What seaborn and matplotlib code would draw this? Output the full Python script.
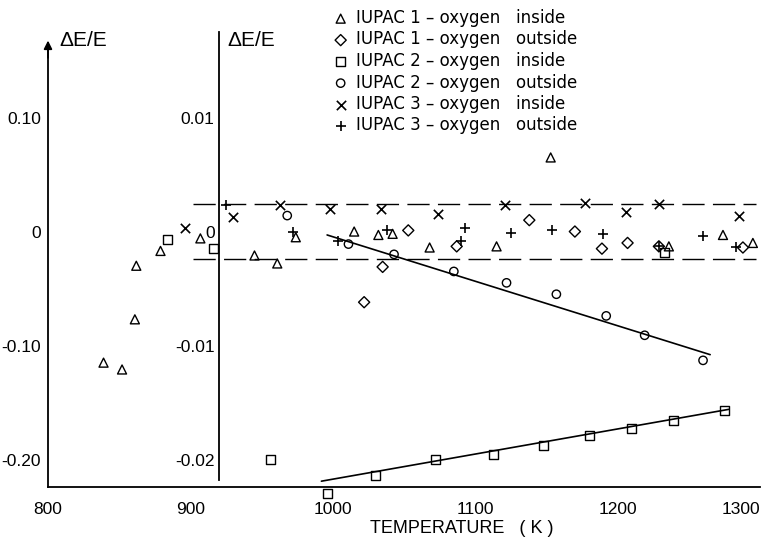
import numpy as np
import pandas as pd
import matplotlib
matplotlib.use("Agg")
import matplotlib.pyplot as plt
import seaborn as sns

# ---------------- data ----------------
# points left of the inner axis (outer ΔE/E scale, 0.10 per tick)
tri_left_T = [839, 852, 861, 862, 879, 907]
tri_left_v = [-0.115, -0.121, -0.077, -0.030, -0.017, -0.006]
sq_left_T = [884, 916]
sq_left_v = [-0.007, -0.015]
x_left_T = [896]
x_left_v = [0.003]

# points right of the inner axis (inner ΔE/E scale, 0.01 per tick)
tri_T = [945, 961, 974, 1015, 1032, 1042, 1068, 1115, 1153, 1236, 1274, 1295]
tri_v = [-0.0021, -0.0028, -0.0005, 0.0000, -0.0003, -0.0002, -0.0014, -0.0013,
         0.0065, -0.0013, -0.0003, -0.0010]
dia_T = [1022, 1035, 1053, 1087, 1138, 1170, 1189, 1207, 1229, 1288]
dia_v = [-0.0062, -0.0031, 0.0001, -0.0013, 0.0010, 0.0000, -0.0015, -0.0010,
         -0.0013, -0.0014]
sq_T = [956, 996, 1030, 1072, 1113, 1148, 1180, 1210, 1233, 1239, 1275]
sq_v = [-0.0200, -0.0230, -0.0214, -0.0200, -0.0196, -0.0188, -0.0179, -0.0173,
        -0.0018, -0.0166, -0.0157]
circ_T = [968, 1011, 1043, 1085, 1122, 1157, 1192, 1219, 1260]
circ_v = [0.0014, -0.0011, -0.0020, -0.0035, -0.0045, -0.0055, -0.0074, -0.0091,
          -0.0113]
xx_T = [930, 963, 998, 1034, 1074, 1121, 1177, 1206, 1229, 1285]
xx_v = [0.0013, 0.0023, 0.0020, 0.0020, 0.0015, 0.0023, 0.0025, 0.0017, 0.0024,
        0.0014]
plus_T = [925, 972, 1004, 1038, 1090, 1093, 1125, 1154, 1190, 1229, 1260, 1283]
plus_v = [0.0023, 0.0000, -0.0008, 0.0001, -0.0008, 0.0003, -0.0001, 0.0001,
          -0.0002, -0.0013, -0.0004, -0.0014]

# fitted lines (inner scale)
fit_circ_T = [996, 1265]
fit_circ_v = [-0.0003, -0.0108]
fit_sq_T = [992, 1278]
fit_sq_v = [-0.0219, -0.0156]

# scatter band (inner scale)
band_levels = [0.0024, -0.0024]
band_T = [902, 1297]

labels = ["IUPAC 1 \u2013 oxygen   inside", "IUPAC 1 \u2013 oxygen   outside",
          "IUPAC 2 \u2013 oxygen   inside", "IUPAC 2 \u2013 oxygen   outside",
          "IUPAC 3 \u2013 oxygen   inside", "IUPAC 3 \u2013 oxygen   outside"]

x_ticks = [800, 900, 1000, 1100, 1200, 1300]
outer_ticks = [0.10, 0.0, -0.10, -0.20]
outer_labels = ["0.10", "0", "-0.10", "-0.20"]
inner_ticks = [0.01, 0.0, -0.01, -0.02]
inner_labels = ["0.01", "0", "-0.01", "-0.02"]

# ---------------- style ----------------
sns.set_style("white")
plt.rcParams["font.family"] = ["DejaVu Sans"]
plt.rcParams["axes.linewidth"] = 1.3
plt.rcParams["text.color"] = "black"
plt.rcParams["axes.labelcolor"] = "black"
plt.rcParams["axes.edgecolor"] = "black"
TICKFONT = "Liberation Sans"

fig = plt.figure(figsize=(7.69, 5.39), dpi=100)
rect = [48 / 769, 52 / 539, 712 / 769, 457 / 539]
ax = fig.add_axes(rect)
ax2 = fig.add_axes(rect, sharex=ax)
ax2.patch.set_visible(False)

ylo, yhi = -0.2241, 0.1768
ax.set_xlim(800, 1300)
ax.set_ylim(ylo, yhi)
ax2.set_ylim(ylo / 10, yhi / 10)

fill_kw = dict(facecolor="none", edgecolor="black", linewidth=1.0, clip_on=False)
line_kw = dict(color="black", linewidth=1.2, clip_on=False)

# left-scale points
sns.scatterplot(x=tri_left_T, y=tri_left_v, ax=ax, marker="^", s=42, **fill_kw)
sns.scatterplot(x=sq_left_T, y=sq_left_v, ax=ax, marker="s", s=42, **fill_kw)
sns.scatterplot(x=x_left_T, y=x_left_v, ax=ax, marker="x", s=45, **line_kw)

# inner-scale points
sns.scatterplot(x=tri_T, y=tri_v, ax=ax2, marker="^", s=42, label=labels[0], **fill_kw)
sns.scatterplot(x=dia_T, y=dia_v, ax=ax2, marker="D", s=32, label=labels[1], **fill_kw)
sns.scatterplot(x=sq_T, y=sq_v, ax=ax2, marker="s", s=42, label=labels[2], **fill_kw)
sns.scatterplot(x=circ_T, y=circ_v, ax=ax2, marker="o", s=36, label=labels[3], **fill_kw)
sns.scatterplot(x=xx_T, y=xx_v, ax=ax2, marker="x", s=45, label=labels[4], **line_kw)
sns.scatterplot(x=plus_T, y=plus_v, ax=ax2, marker="+", s=60, label=labels[5], **line_kw)

# fitted lines
sns.lineplot(x=fit_circ_T, y=fit_circ_v, ax=ax2, color="black", linewidth=1.2,
             legend=False)
sns.lineplot(x=fit_sq_T, y=fit_sq_v, ax=ax2, color="black", linewidth=1.2,
             legend=False)

# dashed band
for lvl in band_levels:
    ax2.hlines(lvl, band_T[0], band_T[1], colors="black", linewidth=1.0,
               linestyles=(0, (16, 6)))

# ---------------- axes cosmetics ----------------
for s in ["top", "right"]:
    ax.spines[s].set_visible(False)
    ax2.spines[s].set_visible(False)
ax2.spines["bottom"].set_visible(False)
ax2.xaxis.set_visible(False)

ax.spines["left"].set_bounds(ylo, 0.160)
ax.annotate("", xy=(800, 0.170), xytext=(800, 0.150),
            arrowprops=dict(arrowstyle="-|>", color="black", lw=1.3,
                            mutation_scale=12),
            annotation_clip=False)

ax2.spines["left"].set_position(("data", 920))
ax2.spines["left"].set_bounds(-0.0218, 0.0175)
ax2.spines["left"].set_linewidth(1.3)

ax.set_xticks(x_ticks)
ax.set_xticklabels([str(t) for t in x_ticks], family=TICKFONT, fontsize=12.5)
ax.tick_params(axis="x", direction="in", length=8, width=1.3, pad=11, colors="black")
ax.get_xticklabels()[-1].set_horizontalalignment("right")

ax.set_yticks(outer_ticks)
ax.set_yticklabels(outer_labels, family=TICKFONT, fontsize=12.5)
ax.tick_params(axis="y", direction="out", length=4, width=1.3, pad=1, colors="black")

ax2.set_yticks(inner_ticks)
ax2.set_yticklabels(inner_labels, family=TICKFONT, fontsize=12.5)
ax2.tick_params(axis="y", direction="in", length=6, width=1.3, pad=3, colors="black")

ax.set_ylabel("")
ax2.set_ylabel("")
ax.set_xlabel("TEMPERATURE   ( K )", family=TICKFONT, fontsize=13, color="black")
ax.xaxis.set_label_coords((462 - 48) / 712, -0.072)

ax.text(808, 0.168, "\u0394E/E", family=TICKFONT, fontsize=15, ha="left",
        va="center", color="black")
ax2.text(926, 0.0168, "\u0394E/E", family=TICKFONT, fontsize=15, ha="left",
         va="center", color="black")

leg = ax2.legend(loc="upper left", bbox_to_anchor=(334 / 769, 1 - 9 / 539),
                 bbox_transform=fig.transFigure, frameon=False, fontsize=12,
                 handlelength=0.8, handletextpad=0.55, labelspacing=0.21,
                 borderpad=0, borderaxespad=0, labelcolor="black")

fig.savefig("out.png", dpi=100)
